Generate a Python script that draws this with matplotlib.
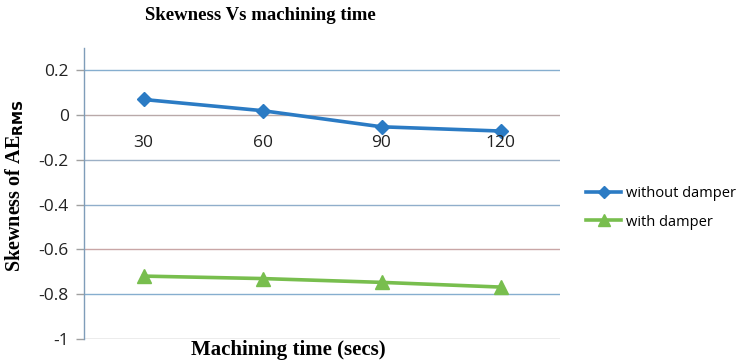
import matplotlib
matplotlib.use("Agg")
import matplotlib.pyplot as plt
from matplotlib.lines import Line2D

# Data
times = ["30", "60", "90", "120"]
without_damper = [0.07, 0.02, -0.052, -0.071]
with_damper = [-0.719, -0.730, -0.747, -0.768]
y_ticks = [0.2, 0, -0.2, -0.4, -0.6, -0.8, -1]
y_tick_labels = ["0.2", "0", "-0.2", "-0.4", "-0.6", "-0.8", "-1"]

W, H = 743, 364
fig = plt.figure(figsize=(W / 100, H / 100), dpi=100)
left, right, top, bottom = 84, 560, 48, 339
ax = fig.add_axes([left / W, 1 - bottom / H, (right - left) / W, (bottom - top) / H])

blue = "#2B7BC4"
green = "#78BE4E"
x = list(range(len(times)))

# gridlines
grid_colors = {0.2: "#86AECF", 0: "#B9A9A9", -0.2: "#9CB0C6", -0.4: "#90AECB",
               -0.6: "#C9A6A6", -0.8: "#86AECF", -1: "#A0A0A0"}
for yv in y_ticks:
    ax.axhline(yv, color=grid_colors[yv], lw=1.0, zorder=1)

ax.plot(x, without_damper, color=blue, lw=2.6, marker="D", ms=7.5,
        markeredgecolor=blue, zorder=3, label="without damper")
ax.plot(x, with_damper, color=green, lw=2.6, marker="^", ms=9.5,
        markeredgecolor=green, zorder=3, label="with damper")

ax.set_xlim(-0.5, len(times) - 0.5)
ax.set_ylim(-1, 0.3)

for s in ["top", "right", "bottom"]:
    ax.spines[s].set_visible(False)
ax.spines["left"].set_color("#7F9DB9")
ax.spines["left"].set_linewidth(1.0)

ax.set_yticks(y_ticks)
ax.set_yticklabels(y_tick_labels, fontsize=12.5, family="Open Sans", color="#222222")
ax.tick_params(axis="y", length=6, width=1.0, color="#A0A0A0", pad=5)
ax.set_xticks([])

# category labels sit just below the zero line
for xi, lab in zip(x, times):
    ax.text(xi, -0.125, lab, ha="center", va="center", fontsize=12.5,
            family="Open Sans", color="#222222")

fig.text(260 / W, 1 - 16 / H, "Skewness Vs machining time", ha="center", va="center",
         fontsize=13.5, fontweight="bold", family="Liberation Serif")
fig.text(288 / W, 1 - 350 / H, "Machining time (secs)", ha="center", va="center",
         fontsize=15, fontweight="bold", family="Liberation Serif")
fig.text(15 / W, 1 - 186 / H, r"Skewness of AE$_{\mathbf{RMS}}$", ha="center", va="center",
         rotation=90, fontsize=14.5, fontweight="bold", family="Liberation Serif")

handles = [
    Line2D([], [], color=blue, lw=2.6, marker="D", ms=6),
    Line2D([], [], color=green, lw=2.6, marker="^", ms=8),
]
fig.legend(handles, ["without damper", "with damper"], loc="center left",
           bbox_to_anchor=(573 / W, 1 - 208 / H), frameon=False,
           prop={"family": "Open Sans", "size": 10.5}, handlelength=2.4,
           handletextpad=0.3, labelspacing=0.9)

fig.savefig("out.png", dpi=100)
